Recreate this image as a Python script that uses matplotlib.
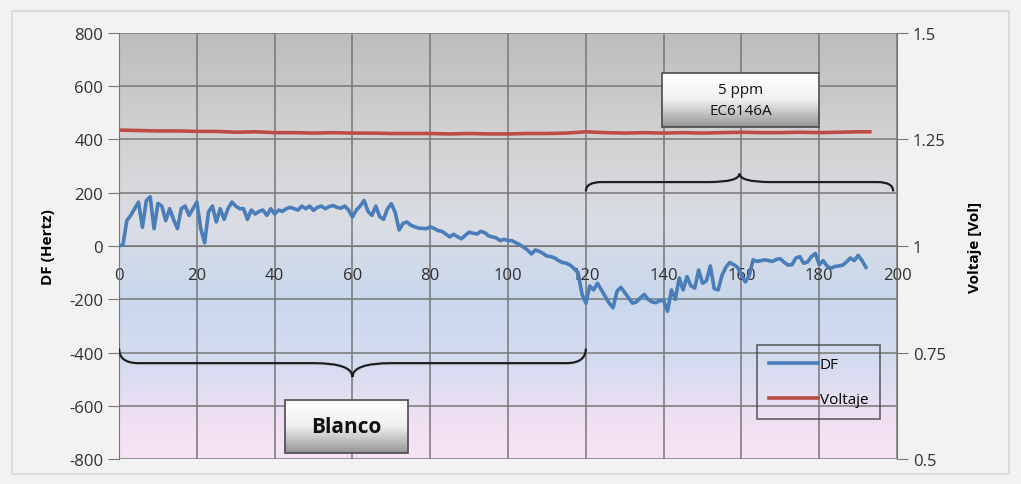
import numpy as np
import matplotlib.pyplot as plt
from matplotlib.path import Path
from matplotlib.patches import PathPatch, Rectangle
from matplotlib.colors import LinearSegmentedColormap
from matplotlib.lines import Line2D

plt.rcParams['font.family'] = ['Open Sans', 'DejaVu Sans']
plt.rcParams['axes.unicode_minus'] = False

# DF (Hz) sampled once per unit, t = 0..192
df_values = [
    0, 5, 95, 115, 140, 165, 70, 170, 185, 65,
    160, 150, 95, 140, 100, 65, 140, 150, 115, 140,
    165, 65, 12, 128, 150, 90, 140, 100, 140, 165,
    150, 140, 140, 100, 135, 120, 130, 135, 115, 140,
    120, 135, 130, 140, 145, 140, 135, 150, 140, 150,
    134, 145, 150, 140, 148, 152, 145, 142, 150, 135,
    109, 135, 150, 171, 130, 115, 150, 110, 100, 140,
    159, 125, 60, 85, 90, 78, 72, 67, 66, 65,
    72, 66, 58, 55, 45, 34, 44, 35, 27, 40,
    52, 48, 45, 55, 50, 38, 34, 30, 20, 25,
    20, 20, 12, 5, -5, -15, -30, -15, -20, -28,
    -38, -40, -45, -55, -62, -65, -72, -85, -100, -180,
    -215, -150, -165, -140, -165, -190, -215, -232, -170, -155,
    -175, -195, -215, -210, -195, -182, -200, -210, -213, -205,
    -205, -245, -165, -200, -120, -165, -115, -150, -158, -90,
    -140, -130, -75, -160, -165, -110, -80, -62, -70, -80,
    -110, -135, -110, -52, -58, -55, -52, -55, -58, -50,
    -48, -62, -72, -70, -45, -40, -65, -60, -40, -28,
    -70, -55, -75, -84, -77, -75, -72, -60, -45, -55,
    -35, -55, -80,
]
df_time = list(range(len(df_values)))

# Voltaje (V) read every 5 units
volt_time = [0, 5, 10, 15, 20, 25, 30, 35, 40, 45, 50, 55, 60, 65, 70, 75, 80,
             85, 90, 95, 100, 105, 110, 115, 120, 125, 130, 135, 140, 145, 150,
             155, 160, 165, 170, 175, 180, 185, 190, 193]
volt_values = [1.272, 1.271, 1.270, 1.270, 1.269, 1.269, 1.267, 1.268, 1.266,
               1.266, 1.265, 1.266, 1.265, 1.265, 1.264, 1.264, 1.264, 1.263,
               1.264, 1.263, 1.263, 1.264, 1.264, 1.265, 1.268, 1.266, 1.265,
               1.266, 1.265, 1.266, 1.265, 1.266, 1.267, 1.266, 1.266, 1.267,
               1.266, 1.267, 1.268, 1.268]

x_ticks = list(range(0, 201, 20))
df_ticks = list(range(-800, 801, 200))
volt_ticks = [0.5, 0.75, 1.0, 1.25, 1.5]
volt_labels = ['0.5', '0.75', '1', '1.25', '1.5']

blue = '#4a7ebb'
red = '#be4b48'
grid_c = '#777777'


def brace(ax, x0, x1, y_end, y_mid, y_tip, end_w, tip_w):
    xc = (x0 + x1) / 2
    verts = [(x0, y_end), (x0, y_mid), (x0 + end_w, y_mid),
             (xc - tip_w, y_mid), (xc, y_mid), (xc, y_tip),
             (xc, y_mid), (xc + tip_w, y_mid),
             (x1 - end_w, y_mid), (x1, y_mid), (x1, y_end)]
    codes = [Path.MOVETO, Path.CURVE3, Path.CURVE3,
             Path.LINETO, Path.CURVE3, Path.CURVE3,
             Path.CURVE3, Path.CURVE3,
             Path.LINETO, Path.CURVE3, Path.CURVE3]
    ax.add_patch(PathPatch(Path(verts, codes), fill=False, lw=1.6,
                           ec='#1e1e1e', zorder=5))


box_cmap = LinearSegmentedColormap.from_list('box', ['#ffffff', '#f0f0f0', '#969696'])


def label_box(ax, x0, x1, y0, y1, lines, size, weight):
    grad = np.linspace(0, 1, 64)[:, None]
    ax.imshow(grad, cmap=box_cmap, extent=(x0, x1, y0, y1), aspect='auto',
              zorder=6, interpolation='bicubic')
    ax.add_patch(Rectangle((x0, y0), x1 - x0, y1 - y0, fill=False,
                           ec='#4a4a4a', lw=1.2, zorder=7))
    ax.text((x0 + x1) / 2, (y0 + y1) / 2, lines, ha='center', va='center',
            fontsize=size, fontweight=weight, linespacing=1.6, zorder=8,
            color='#111111')


fig = plt.figure(figsize=(10.21, 4.85), dpi=100, facecolor='#f2f2f2')
ax = fig.add_axes([0.1166, 0.0515, 0.762, 0.8785])
ax2 = ax.twinx()

# plot-area background: grey at the top fading to blue and pink
bg_cmap = LinearSegmentedColormap.from_list('bg', [
    (0.0, '#bdbdbd'), (0.25, '#d2d2d2'), (0.45, '#dadde4'),
    (0.62, '#c9d7ec'), (0.78, '#d6dcf0'), (0.92, '#f1e0f2'), (1.0, '#f6e4f4')])
ax.imshow(np.linspace(0, 1, 256)[:, None], cmap=bg_cmap,
          extent=(0, 200, -800, 800), aspect='auto', zorder=0)

for yv in df_ticks:
    ax.axhline(yv, color=grid_c, lw=1.1, zorder=1)
for xv in x_ticks[1:]:
    ax.axvline(xv, color=grid_c, lw=1.1, zorder=1)

ax.plot(df_time, df_values, color=blue, lw=2.6, zorder=3)
ax2.plot(volt_time, volt_values, color=red, lw=2.6, zorder=3)

ax.set_xlim(0, 200)
ax.set_ylim(-800, 800)
ax2.set_ylim(0.5, 1.5)

ax.set_xticks(x_ticks)
ax.set_yticks(df_ticks)
ax2.set_yticks(volt_ticks)
ax2.set_yticklabels(volt_labels)

ax.spines['bottom'].set_position(('data', 0))
for sp in ['top', 'right']:
    ax.spines[sp].set_visible(False)
for sp in ['top', 'bottom', 'left']:
    ax2.spines[sp].set_visible(False)
ax.spines['bottom'].set_color(grid_c)
ax.spines['left'].set_color(grid_c)
ax2.spines['right'].set_color(grid_c)

ax.tick_params(axis='x', length=0, pad=15, labelsize=12, labelcolor='#303030')
ax.tick_params(axis='y', length=8, color=grid_c, labelsize=12, labelcolor='#303030')
ax2.tick_params(axis='y', length=8, color=grid_c, labelsize=12, labelcolor='#303030')

ax.set_ylabel('DF (Hertz)', fontsize=11, fontweight='bold', labelpad=10)
ax2.set_ylabel('Voltaje [Vol]', fontsize=11, fontweight='bold', labelpad=16)

# braces marking the two phases
brace(ax, 0, 120, -385, -440, -492, 5, 10)
brace(ax, 120, 199, 205, 240, 272, 4, 8)

label_box(ax, 42.7, 74.3, -778, -578, 'Blanco', 15, 'bold')
label_box(ax, 139.6, 180, 447, 648, '5 ppm\nEC6146A', 11, 'normal')

handles = [Line2D([], [], color=blue, lw=2.6), Line2D([], [], color=red, lw=2.6)]
leg = ax2.legend(handles, ['DF', 'Voltaje'], loc='lower left',
                 bbox_to_anchor=(0.81, 0.075), frameon=True, fancybox=False,
                 handlelength=3.2, handletextpad=0.1, labelspacing=1.3,
                 borderpad=0.8, fontsize=11)
leg.get_frame().set_edgecolor('#404040')
leg.get_frame().set_facecolor('none')
leg.get_frame().set_linewidth(1.2)

ax.set_zorder(1)
ax2.set_zorder(2)
ax2.patch.set_visible(False)

fig.patches.append(Rectangle((0.012, 0.02), 0.976, 0.955, transform=fig.transFigure,
                             fill=False, ec='#d8d8d8', lw=1.2))

fig.savefig('out.png', dpi=100, facecolor=fig.get_facecolor())
